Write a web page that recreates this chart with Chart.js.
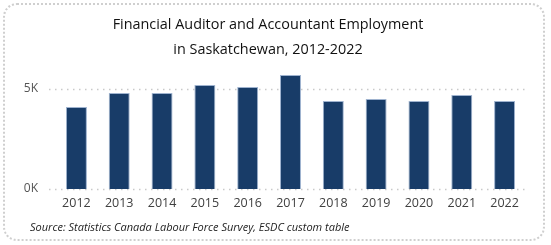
<!DOCTYPE html>
<html>
<head>
<meta charset="utf-8">
<script src="https://cdn.jsdelivr.net/npm/chart.js@4"></script>
<style>
  body { margin: 0; background: #fff; }
  #frame {
    position: absolute; left: 3px; top: 3px; width: 538px; height: 234px;
    border: 2px dotted #cfcfcf; border-radius: 14px;
  }
  #ChartEmp { position: absolute; left: 0; top: 0; }
</style>
</head>
<body>
<div id="frame"></div>
<canvas id="ChartEmp" width="551" height="245"></canvas>
<script>
// ---------------- data ------------------------
const anos = ['2012', '2013', '2014', '2015', '2016', '2017', '2018', '2019', '2020', '2021', '2022'];
const empregos = [4100, 4800, 4800, 5200, 5100, 5700, 4400, 4500, 4400, 4700, 4400];
const yTicks = [0, 5000];
const fonte = 'Source: Statistics Canada Labour Force Survey, ESDC custom table';

// dotted grid lines, a bit wider than the bars area
const gridPontilhado = {
    id: 'gridPontilhado',
    beforeDatasetsDraw(chart) {
        const ctx = chart.ctx;
        const y = chart.scales.y;
        ctx.save();
        ctx.strokeStyle = '#c9c9c9';
        ctx.lineWidth = 1.5;
        ctx.setLineDash([1.5, 4.5]);
        yTicks.forEach(v => {
            const py = Math.round(y.getPixelForValue(v)) + 0.5;
            ctx.beginPath();
            ctx.moveTo(chart.chartArea.left - 6, py);
            ctx.lineTo(chart.chartArea.right + 2, py);
            ctx.stroke();
        });
        ctx.restore();
    }
};

// source note under the chart
const notaFonte = {
    id: 'notaFonte',
    afterDraw(chart) {
        const ctx = chart.ctx;
        ctx.save();
        ctx.fillStyle = '#222';
        ctx.font = 'italic 11px "Open Sans"';
        ctx.textBaseline = 'middle';
        ctx.fillText(fonte, 30, 228);
        ctx.restore();
    }
};

// ----------------------- chart ---------------------------
const grafico = document.getElementById('ChartEmp');

new Chart(grafico, {
    type: 'bar',
    data: {
        labels: anos,
        datasets: [{
            label: 'Employment',
            data: empregos,
            backgroundColor: '#183c68',
            borderColor: '#9fb3cf',
            borderWidth: 1,
            barPercentage: 0.49,
            categoryPercentage: 1
        }]
    },
    plugins: [gridPontilhado, notaFonte],
    options: {
        responsive: false,
        animation: false,
        layout: {
            padding: { left: 10, right: 25, top: 0, bottom: 31 }
        },
        scales: {
            y: {
                min: 0,
                max: 6000,
                afterBuildTicks: (scale) => { scale.ticks = yTicks.map(v => ({ value: v })); },
                afterFit: (scale) => { scale.width = 45; },
                ticks: {
                    padding: 17,
                    color: '#555',
                    font: { family: 'Open Sans', size: 12 },
                    callback: (v) => (v / 1000) + 'K'
                },
                grid: { display: false, drawTicks: false },
                border: { display: false }
            },
            x: {
                afterFit: (scale) => { scale.height = 25; },
                ticks: {
                    padding: 7,
                    color: '#404040',
                    font: { family: 'Open Sans', size: 12.5 }
                },
                grid: { display: false, drawTicks: false },
                border: { display: false }
            }
        },
        plugins: {
            legend: { display: false },
            tooltip: { enabled: false },
            title: {
                display: true,
                text: ['Financial Auditor and Accountant Employment', 'in Saskatchewan, 2012-2022'],
                color: '#111',
                font: { family: 'Open Sans', size: 14.4, weight: 'normal', lineHeight: 1.736 },
                padding: { top: 12.5, bottom: 6.5 }
            }
        }
    }
});
</script>
</body>
</html>
